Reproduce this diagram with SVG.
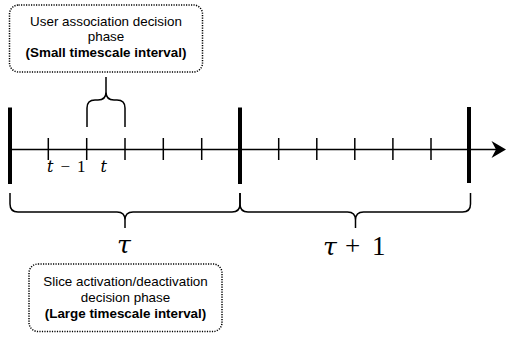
<svg xmlns="http://www.w3.org/2000/svg" width="508" height="337" viewBox="0 0 508 337">
<style>
.ln{stroke:#000;stroke-width:1.5;fill:none}
.bar{stroke:#000;stroke-width:4;fill:none}
.box{fill:#fff;stroke:#000;stroke-width:1.5;stroke-dasharray:1.2 1.3}
.lbl{font-family:"Liberation Sans",Arial,sans-serif;font-size:13.4px;fill:#000;text-anchor:middle}
.b{font-weight:bold}
.math{font-family:"Liberation Serif","Times New Roman",serif;fill:#000}
.it{font-family:"DejaVu Serif",serif;font-style:italic}
</style>
<g id="connectors">
<line class="ln" x1="10" y1="149.5" x2="497" y2="149.5"/>
<path d="M506,149.5 L491.5,141 L496,149.5 L491.5,158 Z" fill="#000"/>
<line class="bar" x1="10" y1="107.5" x2="10" y2="184"/>
<line class="bar" x1="240" y1="107.5" x2="240" y2="184"/>
<line class="bar" x1="469" y1="107" x2="469" y2="183"/>
<g class="ln">
<line x1="48.3" y1="138" x2="48.3" y2="160"/>
<line x1="86.7" y1="138" x2="86.7" y2="160"/>
<line x1="125" y1="138" x2="125" y2="160"/>
<line x1="163.3" y1="138" x2="163.3" y2="160"/>
<line x1="201.7" y1="138" x2="201.7" y2="160"/>
<line x1="278.7" y1="138" x2="278.7" y2="160"/>
<line x1="316.8" y1="138" x2="316.8" y2="160"/>
<line x1="354.8" y1="138" x2="354.8" y2="160"/>
<line x1="392.9" y1="138" x2="392.9" y2="160"/>
<line x1="431" y1="138" x2="431" y2="160"/>
</g>
<path class="ln" d="M87,127 L87,108 Q87,100 95,100 L98,100 Q106,100 106,92 L106,77 M125,127 L125,108 Q125,100 117,100 L114,100 Q106,100 106,92"/>
<path class="ln" d="M10,193 L10,204 Q10,212 18,212 L117,212 Q125,212 125,220 L125,228 M240,193 L240,204 Q240,212 232,212 L133,212 Q125,212 125,220"/>
<path class="ln" d="M240,193 L240,204 Q240,212 248,212 L347.5,212 Q355.5,212 355.5,220 L355.5,228 M470.5,193 L470.5,204 Q470.5,212 462.5,212 L363.5,212 Q355.5,212 355.5,220"/>
</g>
<g id="labels">
<text class="math" y="172" font-size="17"><tspan class="it" x="47" font-size="16">t</tspan><tspan x="60.5">−</tspan><tspan x="77">1</tspan></text>
<text class="math it" x="100.5" y="172" font-size="16">t</text>
<text class="math it" x="117" y="253" font-size="25">τ</text>
<text class="math" y="255" font-size="27"><tspan class="it" x="323" font-size="25">τ</tspan><tspan x="345">+</tspan><tspan x="372">1</tspan></text>
</g>
<g id="node-small">
<rect class="box" x="9.5" y="5" width="193" height="67" rx="9"/>
<text class="lbl" x="106" y="25.5">User association decision</text>
<text class="lbl" x="106" y="41">phase</text>
<text class="lbl b" x="106" y="56.5">(Small timescale interval)</text>
</g>
<g id="node-large">
<rect class="box" x="29" y="264" width="193" height="67.5" rx="9"/>
<text class="lbl" x="125.5" y="285.5">Slice activation/deactivation</text>
<text class="lbl" x="125.5" y="301.5">decision phase</text>
<text class="lbl b" x="125.5" y="317.5">(Large timescale interval)</text>
</g>
</svg>
